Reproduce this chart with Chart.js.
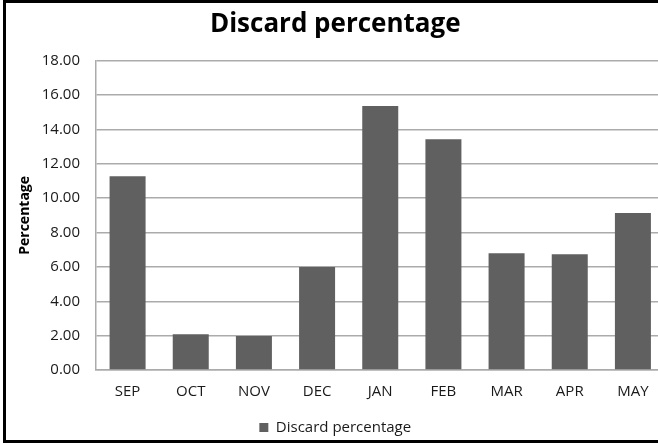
<!DOCTYPE html>
<html>
<head>
<meta charset="utf-8">
<script src="https://cdn.jsdelivr.net/npm/chart.js@4/dist/chart.umd.min.js"></script>
<style>
  html, body { margin: 0; padding: 0; background: #fff; overflow: hidden; }
  #page { position: relative; width: 658px; height: 445px; overflow: hidden; background: #fff; }
  #frame { position: absolute; left: 3px; top: 0; width: 700px; height: 443px; border-left: 3px solid #000; border-top: 3px solid #000; border-bottom: 3px solid #000; box-sizing: border-box; background: #fff; overflow: hidden; }
  #chart { display: block; }
</style>
</head>
<body>
<div id="page">
  <div id="frame"><canvas id="chart" width="664" height="442"></canvas></div>
</div>
<script>
// Monthly discard share, September to May
const months = ['SEP', 'OCT', 'NOV', 'DEC', 'JAN', 'FEB', 'MAR', 'APR', 'MAY'];
const discardPct = [11.28, 2.08, 1.98, 6.00, 15.36, 13.43, 6.80, 6.74, 9.13];
const yTicks = [0, 2, 4, 6, 8, 10, 12, 14, 16, 18];

const gridGray = '#ababab';
const barGray = '#606060';
const family = '"Open Sans", "Noto Sans", sans-serif';

new Chart(document.getElementById('chart'), {
  type: 'bar',
  data: {
    labels: months,
    datasets: [{
      label: 'Discard percentage',
      data: discardPct,
      backgroundColor: barGray,
      borderWidth: 0,
      categoryPercentage: 1,
      barPercentage: 0.57
    }]
  },
  options: {
    responsive: false,
    animation: false,
    events: [],
    layout: { padding: { left: 0, right: 5.5, top: 0, bottom: 0 } },
    plugins: {
      title: {
        display: true,
        text: 'Discard percentage',
        color: '#000',
        font: { family: family, size: 26, weight: 'bold' },
        padding: { top: 5.9, bottom: 20.6 }
      },
      legend: {
        display: true,
        position: 'bottom',
        labels: {
          color: '#1a1a1a',
          font: { family: family, size: 15 },
          boxWidth: 9,
          boxHeight: 9,
          padding: 6
        }
      },
      tooltip: { enabled: false }
    },
    scales: {
      x: {
        grid: { display: true, drawOnChartArea: false, drawTicks: false },
        border: { display: true, color: gridGray, width: 1.5 },
        ticks: { color: '#1a1a1a', font: { family: family, size: 15 }, padding: 13 },
        afterFit: (s) => { s.height = 44; }
      },
      y: {
        min: 0,
        max: 18,
        afterBuildTicks: (s) => { s.ticks = yTicks.map(v => ({ value: v })); },
        grid: { color: gridGray, lineWidth: 1.5, drawTicks: false },
        border: { display: true, color: gridGray, width: 1.5 },
        ticks: {
          color: '#1a1a1a',
          font: { family: family, size: 15 },
          padding: 16,
          callback: (v) => Number(v).toFixed(2)
        },
        title: {
          display: true,
          text: 'Percentage',
          color: '#000',
          font: { family: family, size: 14, weight: 'bold' },
          padding: { top: 10.5, bottom: 0 }
        },
        afterFit: (s) => { s.width = 90; }
      }
    }
  }
});
</script>
</body>
</html>
